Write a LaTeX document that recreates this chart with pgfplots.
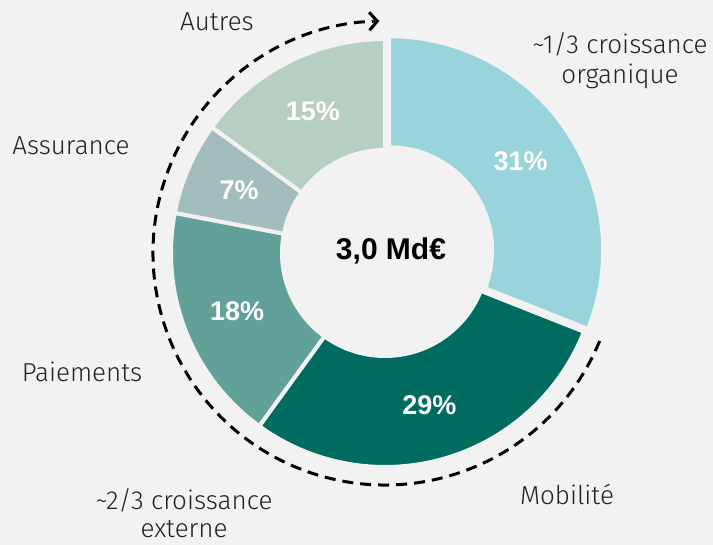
\documentclass[border=0pt]{standalone}
\usepackage{pgfplots}
\pgfplotsset{compat=1.18}
\usepackage{pgfplotstable}
\usetikzlibrary{arrows.meta}
\usepackage{fontspec}
\setmainfont{Fira Sans Light}
\newfontfamily\boldsans{Liberation Sans}[UprightFont=*-Bold]
\definecolor{bg}{HTML}{F2F2F2}
\definecolor{cA}{HTML}{99D3DC}
\definecolor{cB}{HTML}{006B5F}
\definecolor{cC}{HTML}{62A199}
\definecolor{cD}{HTML}{A3BCBC}
\definecolor{cE}{HTML}{B7CFC2}
\definecolor{txt}{HTML}{222222}
\pgfplotstableread{
pct col ex
31 cA 5
29 cB 0
18 cC 0
7 cD 0
15 cE 0
}\slices
\begin{document}
\begin{tikzpicture}
\begin{axis}[x=1pt, y=1pt, xmin=0, xmax=713, ymin=0, ymax=545,
  hide axis, clip=false, scale only axis]
\pgfplotsextra{
  \fill[bg] (axis cs:0,0) rectangle (axis cs:713,545);
  \xdef\cum{0}
  \foreach \i in {0,...,4}{
    \pgfplotstablegetelem{\i}{pct}\of\slices \let\p\pgfplotsretval
    \pgfplotstablegetelem{\i}{col}\of\slices \let\c\pgfplotsretval
    \pgfplotstablegetelem{\i}{ex}\of\slices \let\ex\pgfplotsretval
    \pgfmathsetmacro\sa{90-3.6*\cum}
    \pgfmathsetmacro\ea{90-3.6*(\cum+\p)}
    \pgfmathsetmacro\ma{(\sa+\ea)/2}
    \begin{scope}[shift={(axis cs:385,292)}]
    \begin{scope}[shift={(\ma:\ex pt)}]
      \filldraw[fill=\c, draw=bg, line width=4pt, line join=miter]
        (\sa:214pt) arc[start angle=\sa, end angle=\ea, radius=214pt]
        -- (\ea:103pt) arc[start angle=\ea, end angle=\sa, radius=103pt] -- cycle;
      \node[text=white, font=\boldsans\fontsize{27}{30}\selectfont] at (\ma:159pt) {\p\%};
    \end{scope}
    \end{scope}
    \pgfmathsetmacro\newcum{\cum+\p}
    \xdef\cum{\newcum}
  }
  \draw[line width=3pt, dash pattern=on 11pt off 7pt, -{Straight Barb[length=8pt,width=18pt,line width=3pt]}]
    (axis cs:385,292) ++(-22.3:232pt) arc[start angle=-22.3, end angle=-268.6, radius=232pt];
  \node[font=\boldsans\fontsize{30}{34}\selectfont] at (axis cs:391,294) {3,0 Md€};
  \begin{scope}[every node/.style={text=txt, font=\fontsize{26}{30}\selectfont, align=center}]
    \node at (axis cs:217,523) {Autres};
    \node at (axis cs:620,484) {\textasciitilde1/3 croissance\\organique};
    \node at (axis cs:71,399) {Assurance};
    \node at (axis cs:82,173) {Paiements};
    \node[font=\fontsize{26}{28}\selectfont] at (axis cs:184,32) {\textasciitilde2/3 croissance\\externe};
    \node at (axis cs:567,51) {Mobilité};
  \end{scope}
}
\end{axis}
\end{tikzpicture}
\end{document}
